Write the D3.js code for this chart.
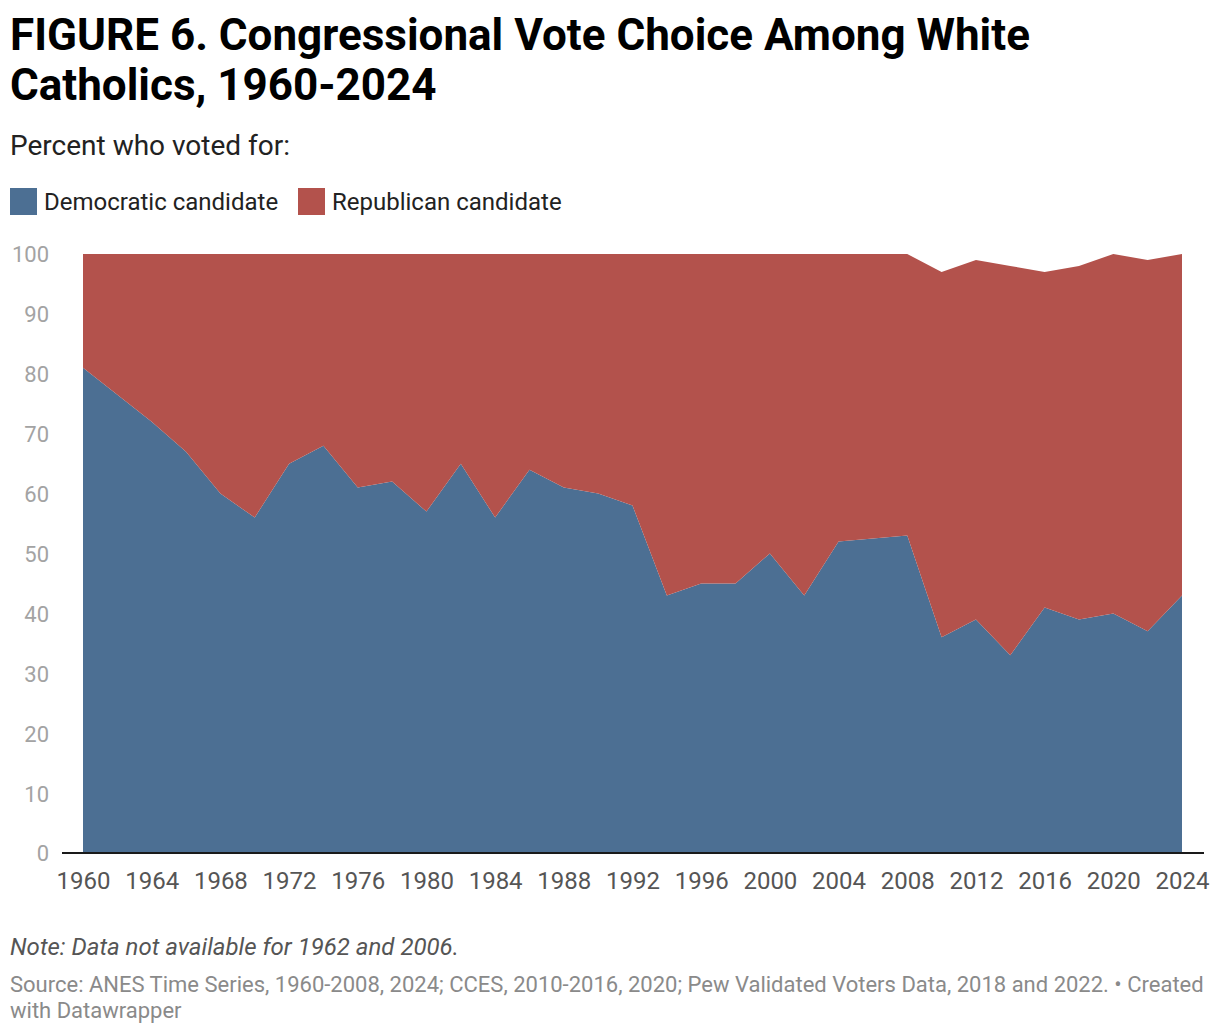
<!DOCTYPE html>
<html>
<head>
<meta charset="utf-8">
<script src="https://cdn.jsdelivr.net/npm/d3@7"></script>
<style>
  body { margin: 0; background: #fff; font-family: Roboto, sans-serif; }
  svg text { font-family: Roboto, sans-serif; }
</style>
</head>
<body>
<svg id="chart" width="1220" height="1034"></svg>
<script>
// data: 1962 and 2006 missing
var years = [1960, 1964, 1966, 1968, 1970, 1972, 1974, 1976, 1978, 1980, 1982, 1984, 1986, 1988, 1990, 1992,
  1994, 1996, 1998, 2000, 2002, 2004, 2008, 2010, 2012, 2014, 2016, 2018, 2020, 2022, 2024]
var democratic = [81, 72, 67, 60, 56, 65, 68, 61, 62, 57, 65, 56, 64, 61, 60, 58,
  43, 45, 45, 50, 43, 52, 53, 36, 39, 33, 41, 39, 40, 37, 43]
var republican = [19, 28, 33, 40, 44, 35, 32, 39, 38, 43, 35, 44, 36, 39, 40, 42,
  57, 55, 55, 50, 57, 48, 47, 61, 60, 65, 56, 59, 60, 62, 57]
var seriesNames = ['Democratic candidate', 'Republican candidate']
var colors = ['#4c6f93', '#b3524c']
var yTicks = [0, 10, 20, 30, 40, 50, 60, 70, 80, 90, 100]
var xTicks = d3.range(1960, 2025, 4)

var svg = d3.select('#chart')

var rows = years.map(function(y, i) {
  return { year: y, dem: democratic[i], rep: republican[i] }
})

var x = d3.scaleLinear().domain([1960, 2024]).range([83, 1182])
  , y = d3.scaleLinear().domain([0, 100]).range([853, 254])

var stack = d3.stack().keys(['dem', 'rep'])
var layers = stack(rows)

var area = d3.area()
  .x(function(d) { return x(d.data.year) })
  .y0(function(d) { return y(d[0]) })
  .y1(function(d) { return y(d[1]) })

svg.append('g').selectAll('path')
  .data(layers)
  .join('path')
  .attr('d', area)
  .attr('fill', function(d, i) { return colors[i] })

// y axis labels
var yAxis = d3.axisLeft(y).tickValues(yTicks).tickSize(0).tickPadding(0)
svg.append('g')
  .attr('transform', 'translate(49,0)')
  .call(yAxis)
  .call(function(g) { g.select('.domain').remove() })
  .selectAll('text')
  .attr('fill', '#a3a3a3')
  .style('font-size', '22px')
  .style('font-family', 'Roboto')
  .attr('dy', '0.36em')

// baseline
svg.append('line')
  .attr('x1', 62).attr('x2', 1204)
  .attr('y1', y(0)).attr('y2', y(0))
  .attr('stroke', '#1a1a1a').attr('stroke-width', 2)

// x axis labels
var xAxis = d3.axisBottom(x).tickValues(xTicks).tickFormat(d3.format('d')).tickSize(0).tickPadding(0)
svg.append('g')
  .attr('transform', 'translate(0,' + 889 + ')')
  .call(xAxis)
  .call(function(g) { g.select('.domain').remove() })
  .selectAll('text')
  .attr('fill', '#555')
  .attr('dy', 0)
  .style('font-size', '24px')
  .style('font-family', 'Roboto')

// title
var title = svg.append('text')
  .attr('font-weight', 700)
  .attr('font-size', 44)
  .attr('fill', '#000')
title.append('tspan').attr('x', 10).attr('y', 50).text('FIGURE 6. Congressional Vote Choice Among White')
title.append('tspan').attr('x', 10).attr('y', 100).text('Catholics, 1960-2024')

svg.append('text')
  .attr('x', 10).attr('y', 155)
  .attr('font-size', 28)
  .attr('fill', '#222')
  .text('Percent who voted for:')

// legend
var legendX = [10, 298]
var legend = svg.append('g').selectAll('g')
  .data(seriesNames)
  .join('g')
  .attr('transform', function(d, i) { return 'translate(' + legendX[i] + ',188)' })
legend.append('rect')
  .attr('width', 27).attr('height', 27)
  .attr('fill', function(d, i) { return colors[i] })
legend.append('text')
  .attr('x', 34).attr('y', 22)
  .attr('font-size', 24)
  .attr('fill', '#222')
  .text(function(d) { return d })

// notes
svg.append('text')
  .attr('x', 10).attr('y', 955)
  .attr('font-size', 24)
  .attr('font-style', 'italic')
  .attr('fill', '#555')
  .text('Note: Data not available for 1962 and 2006.')

var source = svg.append('text')
  .attr('font-size', 22)
  .attr('fill', '#8a8a8a')
source.append('tspan').attr('x', 10).attr('y', 992)
  .text('Source: ANES Time Series, 1960-2008, 2024; CCES, 2010-2016, 2020; Pew Validated Voters Data, 2018 and 2022. \u2022 Created')
source.append('tspan').attr('x', 10).attr('y', 1018)
  .text('with Datawrapper')
</script>
</body>
</html>
